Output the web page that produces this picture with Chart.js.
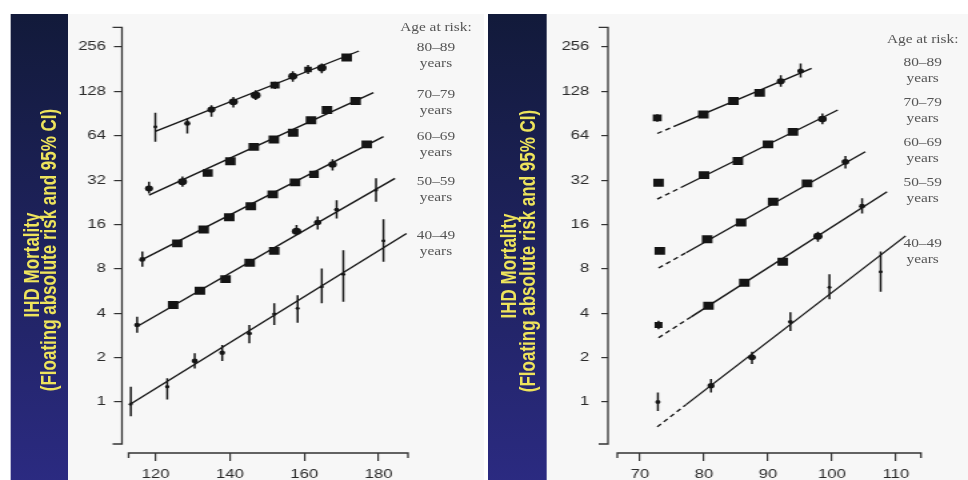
<!DOCTYPE html>
<html>
<head>
<meta charset="utf-8">
<script src="https://cdn.jsdelivr.net/npm/chart.js@4.4.1/dist/chart.umd.min.js"></script>
<style>
  html, body { margin: 0; padding: 0; background: #fff; overflow: hidden; }
  /* the slide is a 4:3 layout stretched to the wide window */
  #page { position: absolute; left: 0; top: 0; width: 726px; height: 500px; transform: scaleX(1.33333); transform-origin: 0 0; }
  .panel { position: absolute; top: 14px; height: 486px; background: #f7f7f7; }
  .band { position: absolute; top: 14px; height: 486px; width: 43.5px; background: linear-gradient(#121a3a, #2c2b84); }
  .ytitle { position: absolute; white-space: nowrap; color: #eee45c; font: bold 17px "Liberation Sans", Arial, sans-serif; transform: translate(-50%, -50%) rotate(-90deg); }
  canvas { position: absolute; top: 0; }
  .age { position: absolute; transform: translateX(-50%); white-space: nowrap; text-align: center; font: 11.5px "Liberation Serif", serif; color: #555; line-height: 16px; }
</style>
</head>
<body>
<div id="page">
  <div class="panel" style="left:51px; width:312px"></div>
  <div class="panel" style="left:409.5px; width:316.5px"></div>
  <div class="band" style="left:7.5px"></div>
  <div class="band" style="left:366px"></div>
  <div class="ytitle" style="left:23.5px; top:265px">IHD Mortality</div>
  <div class="ytitle" style="left:37px; top:250px">(Floating absolute risk and 95% CI)</div>
  <div class="ytitle" style="left:381.5px; top:266px">IHD Mortality</div>
  <div class="ytitle" style="left:395.5px; top:251px">(Floating absolute risk and 95% CI)</div>
  <canvas id="sbp" width="363" height="500" style="left:0"></canvas>
  <canvas id="dbp" width="363" height="500" style="left:363px"></canvas>
  <div id="labels"></div>
</div>
<script>
// y axis (both panels)
const yTicks = [1, 2, 4, 8, 16, 32, 64, 128, 256];
const ageHeader = "Age at risk:";
const ageGroups = ["80–89", "70–79", "60–69", "50–59", "40–49"];

// left panel: usual systolic BP
const sbpTicks = [120, 140, 160, 180];
const sbp80x = [119.9, 128.5, 135.0, 140.9, 146.9, 152.1, 156.9, 161.0, 164.7, 171.4];
const sbp80y = [73.6, 77.6, 96.5, 108.7, 120.6, 141, 162, 180, 185, 217];
const sbp80lo = [58.2, 66.4, 86, 99.6, 112, 133, 149, 168, 170, 207];
const sbp80hi = [91.6, 83.8, 103, 117, 130, 149, 175, 193, 198, 228];
const sbp70x = [118.2, 127.2, 134.0, 140.1, 146.4, 151.8, 157.0, 161.8, 166.1, 173.8];
const sbp70y = [28.1, 31.2, 35.8, 43, 53.8, 60.4, 67, 81.6, 95.6, 110];
const sbp70lo = [26.0, 28.8, 34.0, 41, 51.5, 57.8, 64, 78.2, 91, 105];
const sbp70hi = [31.2, 33.8, 37.7, 45, 56.2, 63.1, 70.2, 85.1, 100.5, 115.5];
const sbp60x = [116.4, 125.8, 132.9, 139.8, 145.6, 151.5, 157.5, 162.6, 167.6, 176.8];
const sbp60y = [9.27, 11.9, 14.8, 17.9, 21.3, 25.6, 30.9, 35.0, 40.9, 55.9];
const sbp60lo = [8.28, 11.3, 14.2, 17.2, 20.4, 24.6, 29.6, 33.2, 37.2, 53.3];
const sbp60hi = [10.5, 12.5, 15.4, 18.7, 22.3, 26.7, 32.3, 37.0, 44.3, 58.7];
const sbp50x = [115.0, 124.7, 131.9, 138.8, 145.3, 151.9, 157.9, 163.6, 168.7, 179.3];
const sbp50y = [3.33, 4.55, 5.68, 6.82, 8.8, 10.6, 14.4, 16.5, 20.2, 27.4];
const sbp50lo = [2.95, 4.33, 5.43, 6.53, 8.42, 10.1, 13.6, 14.8, 17.6, 22.8];
const sbp50hi = [3.79, 4.78, 5.94, 7.12, 9.2, 11.1, 15.9, 18.1, 23.4, 32.9];
const sbp40x = [113.3, 123.1, 130.5, 137.9, 145.2, 151.9, 158.2, 164.7, 170.5, 181.3];
const sbp40y = [0.97, 1.27, 1.9, 2.16, 2.92, 3.95, 4.32, 6.06, 7.37, 12.4];
const sbp40lo = [0.80, 1.04, 1.69, 1.9, 2.5, 3.33, 3.45, 4.67, 4.79, 8.94];
const sbp40hi = [1.27, 1.45, 2.14, 2.44, 3.33, 4.67, 5.3, 8.06, 10.7, 17.4];
// fitted lines (end points)
const sbpFitX = [[119.9, 174.7], [118.2, 178.6], [115.7, 181.3], [115.0, 184.4], [112.8, 187.5]];
const sbpFitY = [[68.6, 240.5], [25.3, 125.4], [9.06, 63.1], [3.25, 32.9], [0.953, 13.9]];

// right panel: usual diastolic BP
const dbpTicks = [70, 80, 90, 100, 110];
const dbp80x = [72.7, 79.9, 84.6, 88.7, 92.0, 95.1];
const dbp80y = [84.5, 89.3, 110, 125, 150, 176];
const dbp80lo = [79.5, 85.5, 105, 119.5, 137.5, 159];
const dbp80hi = [89.4, 93.3, 115, 131, 164.7, 198];
const dbp70x = [72.9, 80.0, 85.3, 90.0, 93.9, 98.5];
const dbp70y = [30.7, 34.6, 43.1, 55.9, 68, 83];
const dbp70lo = [29.4, 33.2, 41.4, 53.7, 65.3, 76.6];
const dbp70hi = [32.0, 36.0, 44.9, 58.2, 70.8, 90.5];
const dbp60x = [73.1, 80.5, 85.8, 90.8, 96.1, 102.1];
const dbp60y = [10.6, 12.7, 16.5, 22.8, 30.4, 42.6];
const dbp60lo = [10.15, 12.2, 15.9, 21.9, 29.2, 38.4];
const dbp60hi = [11.05, 13.2, 17.1, 23.7, 31.6, 46.6];
const dbp50x = [72.9, 80.7, 86.3, 92.3, 97.8, 104.7];
const dbp50y = [3.33, 4.5, 6.44, 8.94, 13.3, 21.3];
const dbp50lo = [3.12, 4.3, 6.2, 8.6, 12.2, 19.0];
const dbp50hi = [3.56, 4.7, 6.7, 9.3, 14.3, 24.1];
const dbp40x = [72.8, 81.1, 87.5, 93.5, 99.6, 107.6];
const dbp40y = [1.0, 1.29, 2.01, 3.5, 6.0, 7.64];
const dbp40lo = [0.87, 1.16, 1.81, 3.03, 4.97, 5.59];
const dbp40hi = [1.16, 1.43, 2.19, 4.06, 7.37, 10.5];
// fitted lines: start, end of dashed part, end
const dbpFitX = [[72.7, 75.8, 96.8], [72.7, 76.4, 100.9], [72.9, 77.2, 105.2], [72.9, 78.0, 108.6], [72.7, 77.2, 111.5]];
const dbpFitY = [[66.3, 75.6, 183.5], [23.8, 28.5, 95.7], [8.11, 10.3, 49.9], [2.73, 3.78, 26.7], [0.678, 0.96, 13.4]];

const INK = "#151515";

// marker size: bigger for tighter CI
function markerSize(lo, hi) {
  const half = Math.log2(hi / lo) / 2;
  return Math.max(1.5, Math.min(5.6, 0.4 / half));
}

// detached axis lines with end caps
const axisLines = {
  id: "axisLines",
  afterDraw(chart, args, opts) {
    const { ctx, chartArea } = chart;
    const x = chart.scales.x, y = chart.scales.y;
    const L = chartArea.left, B = chartArea.bottom;
    const yt = y.getPixelForValue(opts.yLine[1]), yb = y.getPixelForValue(opts.yLine[0]);
    const xl = x.getPixelForValue(opts.xLine[0]), xr = x.getPixelForValue(opts.xLine[1]);
    ctx.save();
    ctx.strokeStyle = "#333";
    ctx.lineWidth = 1.3;
    ctx.beginPath();
    ctx.moveTo(L - 7, yt); ctx.lineTo(L, yt); ctx.lineTo(L, yb); ctx.lineTo(L - 7, yb);
    ctx.moveTo(xl, B + 5); ctx.lineTo(xl, B); ctx.lineTo(xr, B); ctx.lineTo(xr, B + 5);
    ctx.stroke();
    ctx.restore();
  }
};

function panelChart(id, p) {
  const datasets = [];
  p.series.forEach(s => {
    const r = s.lo.map((lo, i) => markerSize(lo, s.hi[i]));
    datasets.push({
      data: s.x.map((v, i) => ({ x: v, y: s.y[i] })),
      pointRadius: r,
      pointStyle: r.map(v => (v >= 3.8 ? "rect" : "circle")),
      backgroundColor: INK, borderColor: INK, pointBorderWidth: 0, showLine: false
    });
    const bars = [];
    s.x.forEach((v, i) => { bars.push({ x: v, y: s.lo[i] }, { x: v, y: s.hi[i] }, { x: v, y: null }); });
    datasets.push({ data: bars, showLine: true, spanGaps: false, pointRadius: 0, borderColor: INK, borderWidth: 1.5 });
    datasets.push({
      data: s.fitX.map((v, i) => ({ x: v, y: s.fitY[i] })),
      showLine: true, pointRadius: 0, borderColor: INK, borderWidth: 1.35,
      segment: { borderDash: c => (s.fitX.length > 2 && c.p0DataIndex === 0 ? [4, 3] : undefined) }
    });
  });

  const tickFont = { family: "Liberation Sans", size: 12.5 };
  return new Chart(document.getElementById(id), {
    type: "scatter",
    data: { datasets },
    options: {
      responsive: false, animation: false, events: [],
      layout: { padding: { left: 0, right: p.padRight, top: 26, bottom: 0 } },
      plugins: {
        legend: { display: false }, tooltip: { enabled: false },
        axisLines: { xLine: p.xLine, yLine: [0.519, 348] }
      },
      scales: {
        x: {
          type: "linear", min: p.xMin, max: p.xMax,
          afterBuildTicks: s => { s.ticks = p.xTicks.map(v => ({ value: v })); },
          afterFit: s => { s.height = 47; },
          grid: { drawOnChartArea: false, drawTicks: true, tickLength: 8, color: "#333", lineWidth: 1.2 },
          border: { display: false },
          ticks: { font: tickFont, color: "#2a2a2a", padding: 6, maxRotation: 0, autoSkip: false, callback: v => String(v) }
        },
        y: {
          type: "logarithmic", min: 0.451, max: 355.3,
          afterBuildTicks: s => { s.ticks = yTicks.map(v => ({ value: v })); },
          afterFit: s => { s.width = p.yWidth; },
          grid: { drawOnChartArea: false, drawTicks: true, tickLength: p.yTickLen, color: "#333", lineWidth: 1.2 },
          border: { display: false },
          ticks: { font: tickFont, color: "#2a2a2a", padding: p.yPad, autoSkip: false, callback: v => String(v) }
        }
      }
    },
    plugins: [axisLines]
  });
}

panelChart("sbp", {
  xMin: 110.92, xMax: 187.9, xTicks: sbpTicks, xLine: [112.7, 187.9],
  yWidth: 91.5, yTickLen: 6, yPad: 6, padRight: 57,
  series: [
    { x: sbp80x, y: sbp80y, lo: sbp80lo, hi: sbp80hi, fitX: sbpFitX[0], fitY: sbpFitY[0] },
    { x: sbp70x, y: sbp70y, lo: sbp70lo, hi: sbp70hi, fitX: sbpFitX[1], fitY: sbpFitY[1] },
    { x: sbp60x, y: sbp60y, lo: sbp60lo, hi: sbp60hi, fitX: sbpFitX[2], fitY: sbpFitY[2] },
    { x: sbp50x, y: sbp50y, lo: sbp50lo, hi: sbp50hi, fitX: sbpFitX[3], fitY: sbpFitY[3] },
    { x: sbp40x, y: sbp40y, lo: sbp40lo, hi: sbp40hi, fitX: sbpFitX[4], fitY: sbpFitY[4] }
  ]
});

panelChart("dbp", {
  xMin: 65.0, xMax: 113.9, xTicks: dbpTicks, xLine: [66.46, 113.9],
  yWidth: 93, yTickLen: 5, yPad: 9, padRight: 35.25,
  series: [
    { x: dbp80x, y: dbp80y, lo: dbp80lo, hi: dbp80hi, fitX: dbpFitX[0], fitY: dbpFitY[0] },
    { x: dbp70x, y: dbp70y, lo: dbp70lo, hi: dbp70hi, fitX: dbpFitX[1], fitY: dbpFitY[1] },
    { x: dbp60x, y: dbp60y, lo: dbp60lo, hi: dbp60hi, fitX: dbpFitX[2], fitY: dbpFitY[2] },
    { x: dbp50x, y: dbp50y, lo: dbp50lo, hi: dbp50hi, fitX: dbpFitX[3], fitY: dbpFitY[3] },
    { x: dbp40x, y: dbp40y, lo: dbp40lo, hi: dbp40hi, fitX: dbpFitX[4], fitY: dbpFitY[4] }
  ]
});

// "Age at risk" labels beside each panel
const labelBox = document.getElementById("labels");
function ageLabels(cx, headerTop, tops) {
  const h = document.createElement("div");
  h.className = "age";
  h.style.left = cx + "px"; h.style.top = headerTop + "px";
  h.textContent = ageHeader;
  labelBox.appendChild(h);
  ageGroups.forEach((g, i) => {
    const d = document.createElement("div");
    d.className = "age";
    d.style.left = cx + "px"; d.style.top = tops[i] + "px";
    d.innerHTML = g + "<br>years";
    labelBox.appendChild(d);
  });
}
ageLabels(327, 19, [39, 86, 128, 173, 227]);
ageLabels(692, 31, [54, 94, 134, 174, 235]);
</script>
</body>
</html>
